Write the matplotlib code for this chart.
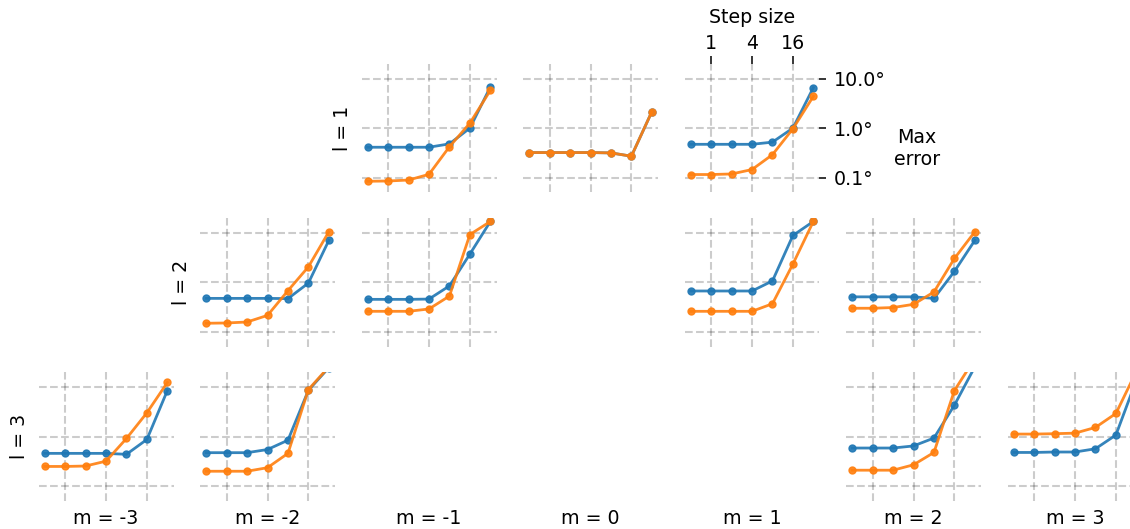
import matplotlib
matplotlib.use('Agg')
import matplotlib.pyplot as plt

steps = [0.5, 1, 2, 4, 8, 16, 32]

# max error (degrees) per (l, m) panel, two series
l1_mn1_s1 = [0.41, 0.41, 0.41, 0.41, 0.48, 1.0, 6.8]
l1_mn1_s2 = [0.084, 0.085, 0.089, 0.116, 0.42, 1.26, 5.8]
l1_m0_s1 = [0.32, 0.32, 0.32, 0.32, 0.315, 0.27, 2.15]
l1_m0_s2 = [0.32, 0.32, 0.32, 0.32, 0.315, 0.27, 2.15]
l1_m1_s1 = [0.47, 0.47, 0.47, 0.47, 0.52, 1.0, 6.6]
l1_m1_s2 = [0.115, 0.115, 0.118, 0.145, 0.29, 0.97, 4.4]

l2_mn2_s1 = [0.475, 0.475, 0.475, 0.475, 0.47, 0.97, 7.1]
l2_mn2_s2 = [0.149, 0.151, 0.158, 0.215, 0.68, 2.07, 10.6]
l2_mn1_s1 = [0.454, 0.454, 0.454, 0.46, 0.85, 3.75, 17.1]
l2_mn1_s2 = [0.26, 0.26, 0.26, 0.29, 0.53, 9.3, 17.1]
l2_m1_s1 = [0.67, 0.67, 0.67, 0.67, 1.07, 8.9, 17.1]
l2_m1_s2 = [0.26, 0.26, 0.26, 0.26, 0.37, 2.35, 17.1]
l2_m2_s1 = [0.51, 0.51, 0.51, 0.51, 0.475, 1.67, 7.1]
l2_m2_s2 = [0.30, 0.30, 0.31, 0.36, 0.64, 3.05, 10.6]

l3_mn3_s1 = [0.46, 0.46, 0.46, 0.46, 0.44, 0.88, 8.6]
l3_mn3_s2 = [0.25, 0.25, 0.255, 0.32, 0.92, 3.05, 12.5]
l3_mn2_s1 = [0.475, 0.475, 0.475, 0.55, 0.85, 8.7, 25]
l3_mn2_s2 = [0.20, 0.20, 0.20, 0.236, 0.46, 9.0, 26]
l3_m2_s1 = [0.59, 0.59, 0.59, 0.65, 0.94, 4.35, 26]
l3_m2_s2 = [0.21, 0.21, 0.21, 0.27, 0.48, 8.6, 38]
l3_m3_s1 = [0.48, 0.48, 0.49, 0.49, 0.57, 1.08, 14]
l3_m3_s2 = [1.13, 1.13, 1.15, 1.18, 1.54, 2.95, 21]

panels = [
    (1, -1, l1_mn1_s1, l1_mn1_s2), (1, 0, l1_m0_s1, l1_m0_s2), (1, 1, l1_m1_s1, l1_m1_s2),
    (2, -2, l2_mn2_s1, l2_mn2_s2), (2, -1, l2_mn1_s1, l2_mn1_s2),
    (2, 1, l2_m1_s1, l2_m1_s2), (2, 2, l2_m2_s1, l2_m2_s2),
    (3, -3, l3_mn3_s1, l3_mn3_s2), (3, -2, l3_mn2_s1, l3_mn2_s2),
    (3, 2, l3_m2_s1, l3_m2_s2), (3, 3, l3_m3_s1, l3_m3_s2),
]
m_values = [-3, -2, -1, 0, 1, 2, 3]
xticks = [1, 4, 16]
yticks = [0.1, 1, 10]

plt.rcParams.update({'font.size': 13.7})
W, H = 1130, 529
fig = plt.figure(figsize=(W / 100, H / 100), dpi=100)

# panel geometry in pixels
left0, dx, pw = 38.5, 161.5, 135
row_bottom = [192.4, 346.7, 501.0]   # pixel y of panel bottoms (from top)
ph = 128.6

for l, m, s1, s2 in panels:
    col = m + 3
    x0 = (left0 + col * dx) / W
    y0 = (H - row_bottom[l - 1]) / H
    ax = fig.add_axes([x0, y0, pw / W, ph / H])
    ax.plot(steps, s1, color='#1f77b4', marker='o', ms=5, lw=2, alpha=0.9)
    ax.plot(steps, s2, color='#ff7f0e', marker='o', ms=5, lw=2, alpha=0.9)
    ax.set_xscale('log')
    ax.set_yscale('log')
    ax.set_ylim(0.05, 20)
    ax.minorticks_off()
    ax.set_xticks(xticks)
    ax.set_yticks(yticks)
    ax.grid(True, color='k', alpha=0.2, lw=1.5, ls='--')
    for sp in ax.spines.values():
        sp.set_visible(False)
    if (l, m) == (1, 1):
        ax.xaxis.tick_top()
        ax.yaxis.tick_right()
        ax.set_xticklabels([str(t) for t in xticks])
        ax.set_yticklabels(['0.1°', '1.0°', '10.0°'])
        ax.tick_params(axis='x', length=6, width=1.1, pad=1.8)
        ax.tick_params(axis='y', length=5, width=1.1, pad=5)
        ax.xaxis.set_label_position('top')
        ax.set_xlabel('Step size', labelpad=8)
        ax.text(1.72, 0.34, 'Max\nerror', transform=ax.transAxes,
                ha='center', va='center', multialignment='center')
    else:
        ax.tick_params(length=0, labelbottom=False, labelleft=False)
    # row label to the left of the first panel in each row
    if m == min(mm for ll, mm, _, _ in panels if ll == l):
        ax.text(-0.14, 0.5, f'l = {l}', transform=ax.transAxes, rotation=90,
                ha='center', va='center')

for m in m_values:
    col = m + 3
    xc = (left0 + col * dx + pw / 2) / W
    fig.text(xc, (H - 518) / H, f'm = {m}', ha='center', va='center')

fig.savefig('out.png', dpi=100)
